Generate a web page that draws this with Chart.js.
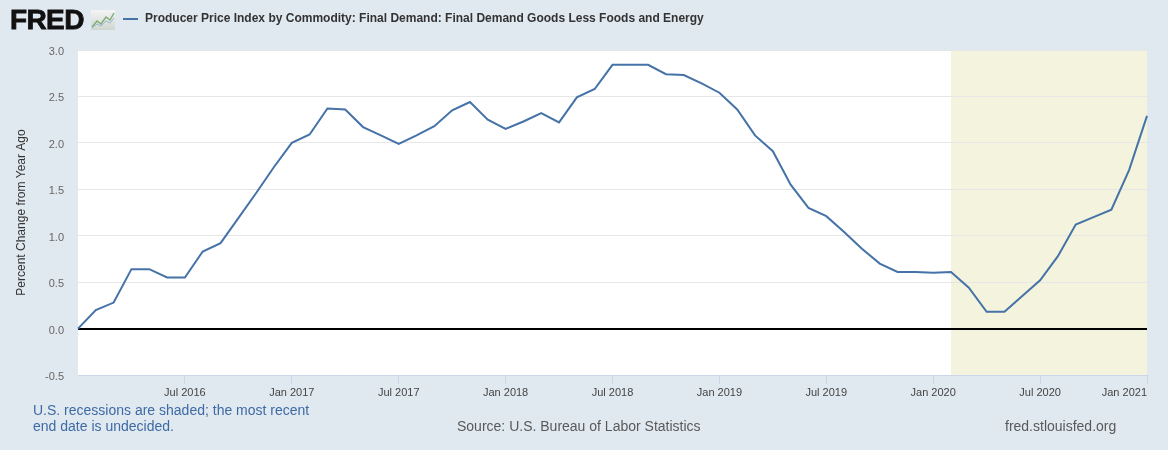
<!DOCTYPE html>
<html>
<head>
<meta charset="utf-8">
<script src="https://cdn.jsdelivr.net/npm/chart.js@4.4.1/dist/chart.umd.min.js"></script>
<style>
  html, body { margin:0; padding:0; background:#e1e9f0; }
  body { width:1168px; height:450px; position:relative; overflow:hidden; font-family:"Liberation Sans", Arial, sans-serif; }
  #wrap { position:absolute; left:0; top:0; width:1168px; height:450px; }
  .logo { position:absolute; left:10px; top:4px; font-weight:bold; font-size:28px; letter-spacing:-0.6px; color:#111; -webkit-text-stroke:0.8px #111; }
  .icon { position:absolute; left:91px; top:10px; }
  .legline { position:absolute; left:123px; top:18px; width:15px; height:2px; background:#4572a7; }
  .legtext { position:absolute; left:145px; top:11px; font-weight:bold; font-size:12px; color:#333; white-space:nowrap; }
  .note { position:absolute; left:33px; top:402px; font-size:14px; line-height:16px; color:#3d6aa5; }
  .source { position:absolute; left:457px; top:418px; font-size:14px; color:#595959; white-space:nowrap; }
  .site { position:absolute; left:1005px; top:418px; font-size:14px; color:#595959; white-space:nowrap; }
</style>
</head>
<body>
<div id="wrap"><canvas id="c" width="1168" height="450"></canvas></div>
<div class="logo">FRED</div>
<svg class="icon" width="24" height="20" viewBox="0 0 24 20">
  <defs><linearGradient id="g" x1="0" y1="0" x2="0" y2="1"><stop offset="0" stop-color="#f4f4f4"/><stop offset="1" stop-color="#cfd6d0"/></linearGradient></defs>
  <rect x="0" y="0" width="24" height="20" fill="url(#g)"/>
  <polyline points="1,17 6,11 10,14 15,7 19,10 23,3" fill="none" stroke="#7fae7a" stroke-width="1.5"/>
  <polyline points="1,18 6,14 10,16 15,11 19,13 23,8" fill="none" stroke="#9bb8cf" stroke-width="1"/>
</svg>
<div class="legline"></div>
<div class="legtext">Producer Price Index by Commodity: Final Demand: Final Demand Goods Less Foods and Energy</div>
<div class="note">U.S. recessions are shaded; the most recent<br>end date is undecided.</div>
<div class="source">Source: U.S. Bureau of Labor Statistics</div>
<div class="site">fred.stlouisfed.org</div>
<script>
// ---- data ----
const months = [
  '2016-01','2016-02','2016-03','2016-04','2016-05','2016-06','2016-07','2016-08','2016-09','2016-10','2016-11','2016-12',
  '2017-01','2017-02','2017-03','2017-04','2017-05','2017-06','2017-07','2017-08','2017-09','2017-10','2017-11','2017-12',
  '2018-01','2018-02','2018-03','2018-04','2018-05','2018-06','2018-07','2018-08','2018-09','2018-10','2018-11','2018-12',
  '2019-01','2019-02','2019-03','2019-04','2019-05','2019-06','2019-07','2019-08','2019-09','2019-10','2019-11','2019-12',
  '2020-01','2020-02','2020-03','2020-04','2020-05','2020-06','2020-07','2020-08','2020-09','2020-10','2020-11','2020-12',
  '2021-01'
];
const ppiChange = [
  0.00, 0.20, 0.28, 0.64, 0.64, 0.55, 0.55, 0.83, 0.92, 1.19, 1.46, 1.74,
  2.00, 2.09, 2.37, 2.36, 2.17, 2.08, 1.99, 2.08, 2.18, 2.35, 2.44, 2.25,
  2.15, 2.23, 2.32, 2.22, 2.49, 2.58, 2.84, 2.84, 2.84, 2.74, 2.73, 2.64,
  2.54, 2.36, 2.08, 1.91, 1.55, 1.30, 1.21, 1.04, 0.86, 0.70, 0.61, 0.61,
  0.60, 0.61, 0.44, 0.18, 0.18, 0.35, 0.52, 0.78, 1.12, 1.20, 1.28, 1.71,
  2.29
];
const monthNames = ['Jan','Feb','Mar','Apr','May','Jun','Jul','Aug','Sep','Oct','Nov','Dec'];
const xTickMonths = [1, 7]; // Jan and Jul labelled
const yTicks = [-0.5, 0.0, 0.5, 1.0, 1.5, 2.0, 2.5, 3.0];
const recessionStart = '2020-02';
const recessionEnd = '2021-01';

function tickLabel(idx) {
  if (idx === 0) return '';
  const [y, m] = months[idx].split('-').map(Number);
  return xTickMonths.includes(m) ? monthNames[m - 1] + ' ' + y : '';
}

const bgPlugin = {
  id: 'bg',
  beforeDraw(chart) {
    const { ctx, chartArea: a, scales } = chart;
    ctx.save();
    ctx.fillStyle = '#ffffff';
    ctx.fillRect(a.left, a.top, a.right - a.left, a.bottom - a.top);
    const x0 = scales.x.getPixelForValue(months.indexOf(recessionStart));
    const x1 = scales.x.getPixelForValue(months.indexOf(recessionEnd));
    ctx.fillStyle = 'rgb(244,244,222)';
    ctx.fillRect(x0, a.top, x1 - x0, a.bottom - a.top);
    ctx.restore();
  }
};

new Chart(document.getElementById('c'), {
  type: 'line',
  data: {
    labels: months,
    datasets: [{
      data: ppiChange,
      borderColor: '#4572a7',
      borderWidth: 2,
      pointRadius: 0,
      tension: 0,
      fill: false
    }]
  },
  options: {
    responsive: false,
    animation: false,
    events: [],
    layout: { padding: { left: 0, top: 50, right: 21, bottom: 0 } },
    plugins: { legend: { display: false }, tooltip: { enabled: false } },
    scales: {
      x: {
        type: 'category',
        offset: false,
        afterFit(s) { s.height = 75; },
        border: { display: true, color: '#ccd6eb', width: 1 },
        grid: {
          drawOnChartArea: false,
          drawTicks: true,
          tickLength: 9,
          color: (c) => (c.index > 0 && tickLabel(c.index) !== '') ? '#ccd6eb' : 'rgba(0,0,0,0)'
        },
        ticks: {
          autoSkip: false,
          maxRotation: 0,
          minRotation: 0,
          align: 'inner',
          padding: 2,
          color: '#444444',
          font: { family: '"Liberation Sans", Arial, sans-serif', size: 11 },
          callback: (v, i) => tickLabel(i)
        }
      },
      y: {
        min: -0.5,
        max: 3.0,
        afterFit(s) { s.width = 78; },
        afterBuildTicks(s) { s.ticks = yTicks.map(v => ({ value: v })); },
        border: { display: false },
        grid: {
          drawTicks: false,
          color: (c) => c.tick && c.tick.value === 0 ? '#000000' : '#e6e6e6',
          lineWidth: (c) => c.tick && c.tick.value === 0 ? 2 : 1
        },
        ticks: {
          padding: 14,
          labelOffset: 2,
          color: '#666666',
          font: { family: '"Liberation Sans", Arial, sans-serif', size: 11 },
          callback: (v) => Number(v).toFixed(1)
        },
        title: {
          display: true,
          text: 'Percent Change from Year Ago',
          color: '#333333',
          font: { family: '"Liberation Sans", Arial, sans-serif', size: 12 },
          padding: { top: 14, bottom: 0 }
        }
      }
    }
  },
  plugins: [bgPlugin]
});
</script>
</body>
</html>
